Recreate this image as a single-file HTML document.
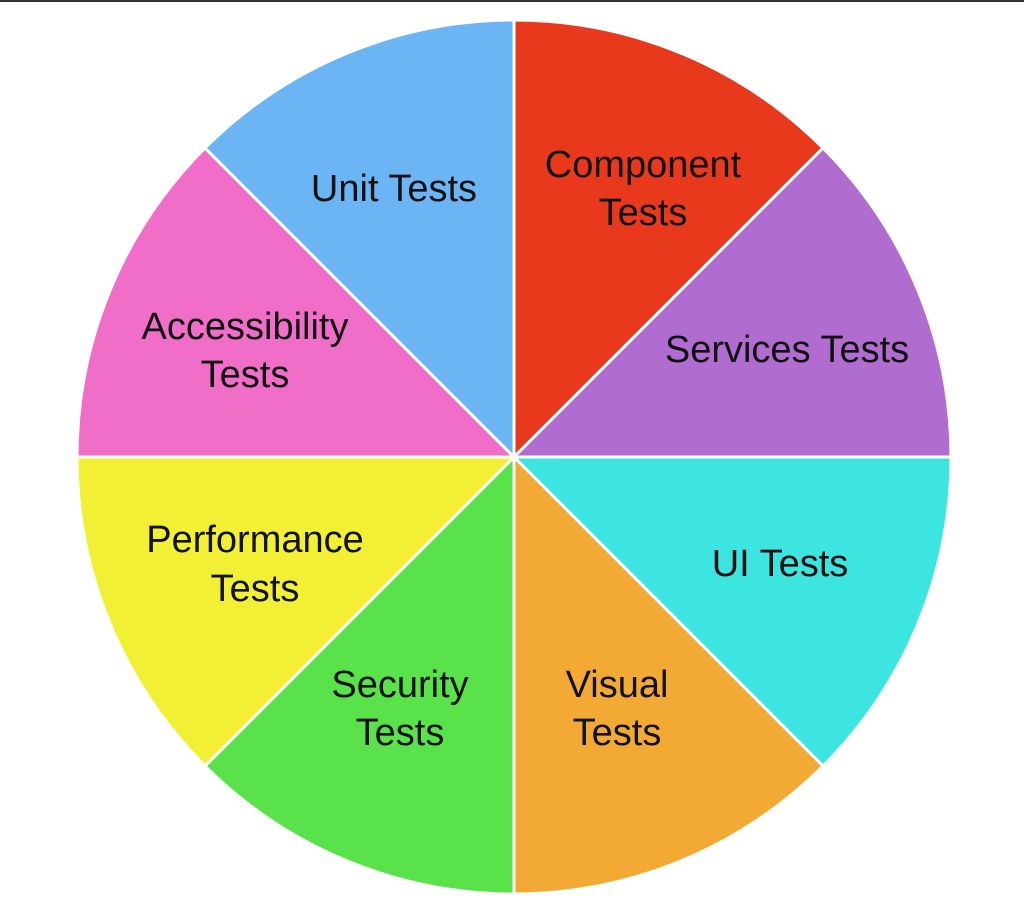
<!DOCTYPE html>
<html><head><meta charset="utf-8"><style>
html,body{margin:0;padding:0;background:#fff;}
svg{display:block;}
text{font-family:"Liberation Sans",sans-serif;font-size:38px;fill:#111;text-anchor:middle;dominant-baseline:central;}
</style></head><body>
<svg width="1024" height="911" viewBox="0 0 1024 911">
<rect x="0" y="0" width="1024" height="2" fill="#333"/>
<g stroke="#fff" stroke-width="3" stroke-linejoin="round">
<path d="M514,457 L514,20 A437,437 0 0 1 823,148 Z" fill="#e9391c"/>
<path d="M514,457 L823,148 A437,437 0 0 1 951,457 Z" fill="#b06dcf"/>
<path d="M514,457 L951,457 A437,437 0 0 1 823,766 Z" fill="#3de5e0"/>
<path d="M514,457 L823,766 A437,437 0 0 1 514,894 Z" fill="#f3aa35"/>
<path d="M514,457 L514,894 A437,437 0 0 1 205,766 Z" fill="#5ae24a"/>
<path d="M514,457 L205,766 A437,437 0 0 1 77,457 Z" fill="#f2f035"/>
<path d="M514,457 L77,457 A437,437 0 0 1 205,148 Z" fill="#f16ec8"/>
<path d="M514,457 L205,148 A437,437 0 0 1 514,20 Z" fill="#6bb5f5"/>
</g>
<text x="394" y="189">Unit Tests</text>
<text x="643" y="165">Component</text><text x="643" y="213">Tests</text>
<text x="787" y="350">Services Tests</text>
<text x="245" y="327">Accessibility</text><text x="245" y="375">Tests</text>
<text x="255" y="540">Performance</text><text x="255" y="589">Tests</text>
<text x="780" y="564">UI Tests</text>
<text x="400" y="685">Security</text><text x="400" y="733">Tests</text>
<text x="617" y="685">Visual</text><text x="617" y="733">Tests</text>
</svg>
</body></html>
